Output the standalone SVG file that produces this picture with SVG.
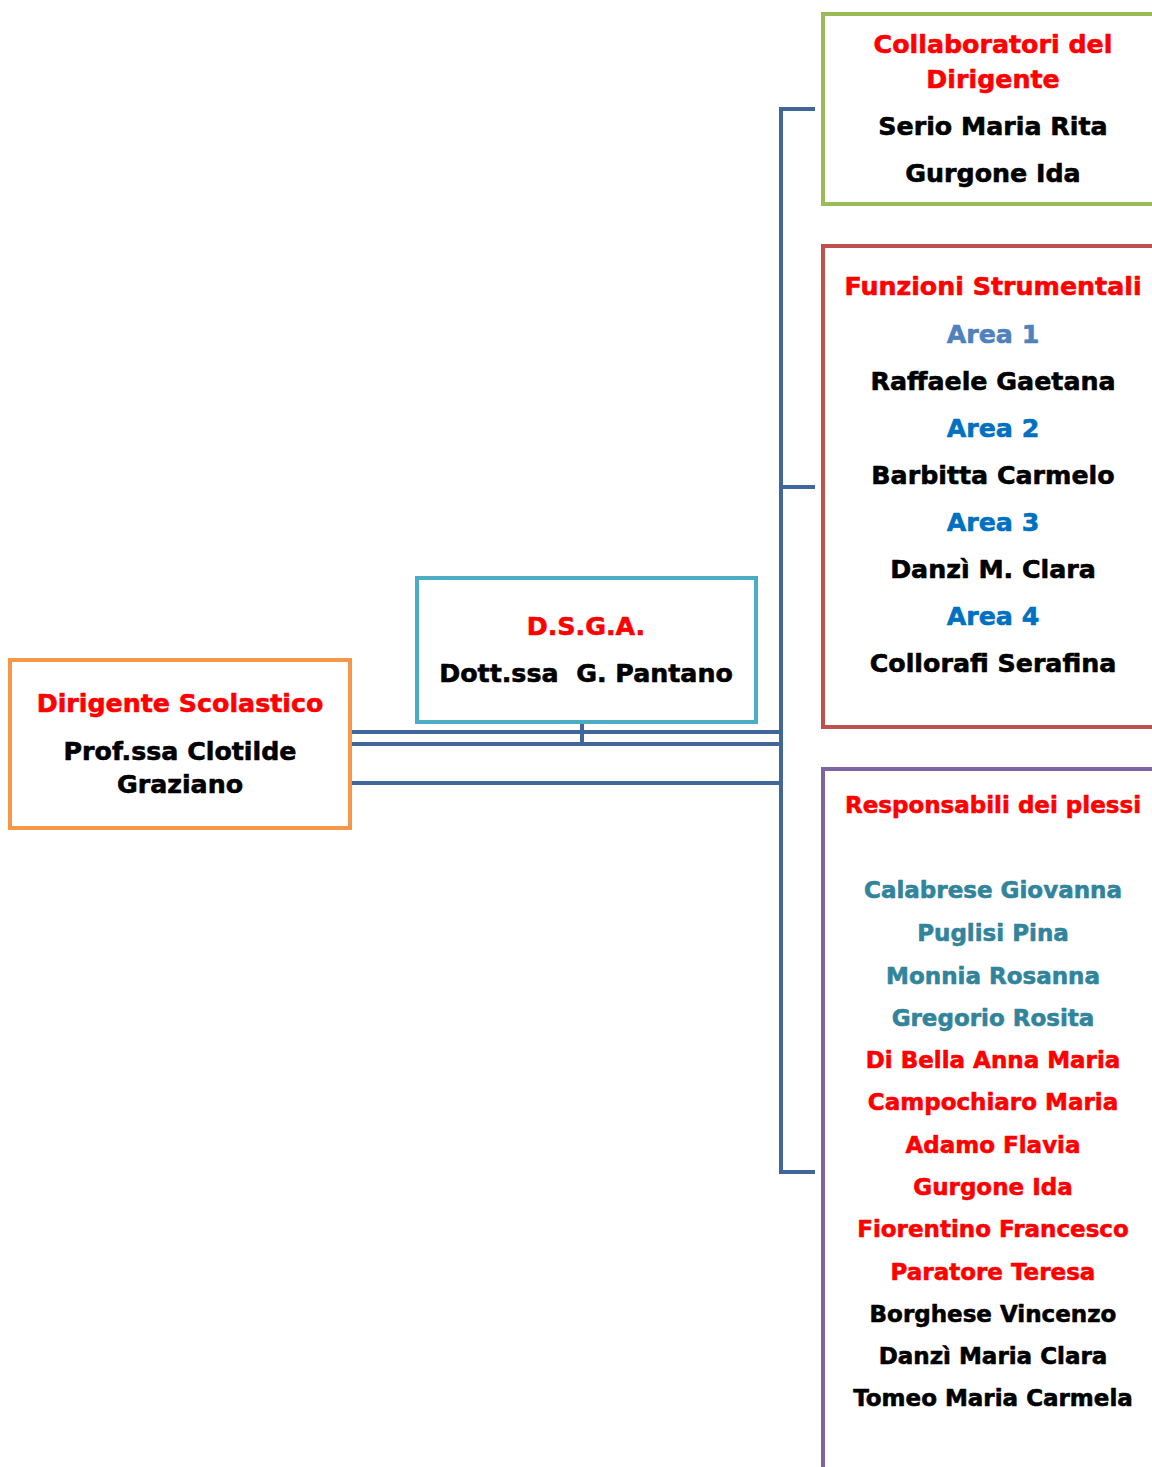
<svg xmlns="http://www.w3.org/2000/svg" width="1152" height="1467" viewBox="0 0 1152 1467">
<style>
text{font-family:"DejaVu Sans","Liberation Sans",Arial,sans-serif;font-weight:bold;text-anchor:middle;white-space:pre;stroke-width:0.6;stroke-linejoin:round}
.b{font-size:25.3px}
.s{font-size:23px}
.red{fill:#FF0000;stroke:#FF0000}
.blk{fill:#000000;stroke:#000000}
.a1{fill:#4F81BD;stroke:#4F81BD}
.a{fill:#0070C0;stroke:#0070C0}
.teal{fill:#31849B;stroke:#31849B}
.box{fill:#FFFFFF;stroke-width:4}
.conn{fill:none;stroke:#41679A;stroke-width:4}
</style>
<rect width="1152" height="1467" fill="#FFFFFF"/>
<g id="connectors">
<path class="conn" d="M815 109 H781 V1172 H815"/>
<path class="conn" d="M781 487 H815"/>
<path class="conn" d="M350 732 H781"/>
<path class="conn" d="M350 744 H781"/>
<path class="conn" d="M350 783 H781"/>
<path class="conn" d="M582 722 V744"/>
</g>
<g id="dirigente">
<rect class="box" x="10" y="660" width="340" height="168" stroke="#F79646"/>
<text class="b red" x="180" y="712">Dirigente Scolastico</text>
<text class="b blk" x="180" y="760">Prof.ssa Clotilde</text>
<text class="b blk" x="180" y="793">Graziano</text>
</g>
<g id="dsga">
<rect class="box" x="417" y="578" width="339" height="144" stroke="#4BACC6"/>
<text class="b red" x="586" y="635">D.S.G.A.</text>
<text class="b blk" x="586" y="682">Dott.ssa  G. Pantano</text>
</g>
<g id="collaboratori">
<rect class="box" x="823" y="14" width="340" height="190" stroke="#9BBB59"/>
<text class="b red" x="993" y="53">Collaboratori del</text>
<text class="b red" x="993" y="87.5">Dirigente</text>
<text class="b blk" x="993" y="135">Serio Maria Rita</text>
<text class="b blk" x="993" y="181.5">Gurgone Ida</text>
</g>
<g id="funzioni">
<rect class="box" x="823" y="246" width="340" height="481" stroke="#C0504D"/>
<text class="b red" x="993" y="295">Funzioni Strumentali</text>
<text class="b a1" x="993" y="342.5">Area 1</text>
<text class="b blk" x="993" y="390">Raffaele Gaetana</text>
<text class="b a" x="993" y="436.5">Area 2</text>
<text class="b blk" x="993" y="484">Barbitta Carmelo</text>
<text class="b a" x="993" y="530.5">Area 3</text>
<text class="b blk" x="993" y="578">Danzì M. Clara</text>
<text class="b a" x="993" y="625">Area 4</text>
<text class="b blk" x="993" y="671.5">Collorafi Serafina</text>
</g>
<g id="responsabili">
<rect class="box" x="823" y="769" width="340" height="720" stroke="#8064A2"/>
<text class="s red" x="993" y="813">Responsabili dei plessi</text>
<text class="s teal" x="993" y="898">Calabrese Giovanna</text>
<text class="s teal" x="993" y="941">Puglisi Pina</text>
<text class="s teal" x="993" y="983.5">Monnia Rosanna</text>
<text class="s teal" x="993" y="1026">Gregorio Rosita</text>
<text class="s red" x="993" y="1067.5">Di Bella Anna Maria</text>
<text class="s red" x="993" y="1110">Campochiaro Maria</text>
<text class="s red" x="993" y="1152.5">Adamo Flavia</text>
<text class="s red" x="993" y="1195">Gurgone Ida</text>
<text class="s red" x="993" y="1237">Fiorentino Francesco</text>
<text class="s red" x="993" y="1280">Paratore Teresa</text>
<text class="s blk" x="993" y="1321.5">Borghese Vincenzo</text>
<text class="s blk" x="993" y="1363.5">Danzì Maria Clara</text>
<text class="s blk" x="993" y="1406">Tomeo Maria Carmela</text>
</g>
</svg>
